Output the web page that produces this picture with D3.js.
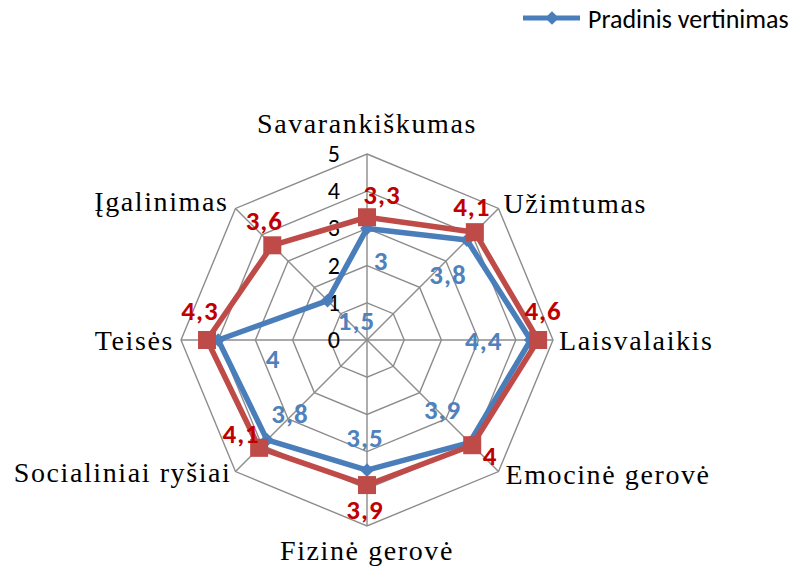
<!DOCTYPE html>
<html>
<head>
<meta charset="utf-8">
<script src="https://cdn.jsdelivr.net/npm/d3@7"></script>
<style>
  body { margin: 0; background: #fff; }
  svg { display: block; }
</style>
</head>
<body>
<script>
// categories (clockwise from top)
var categories = ["Savarankiškumas", "Užimtumas", "Laisvalaikis", "Emocinė gerovė",
                  "Fizinė gerovė", "Socialiniai ryšiai", "Teisės", "Įgalinimas"];
// series values
var pradinis = [3, 3.8, 4.4, 3.9, 3.5, 3.8, 4, 1.5];
var pakartotinis = [3.3, 4.1, 4.6, 4, 3.9, 4.1, 4.3, 3.6];
// radial axis ticks
var ticks = [0, 1, 2, 3, 4, 5];
var legendName = "Pradinis vertinimas";

//---------setup-----------//
var width = 794, height = 567;
var cx = 367, cy = 340, R = 186;

var blue = "#4a7ebb", red = "#be4b48";
var blueText = "#4f81bd", redText = "#c00000";

var r = d3.scaleLinear().domain([0, 5]).range([0, R]);
var angle = d3.scaleLinear().domain([0, categories.length]).range([0, 2 * Math.PI]);

function px(i, v) { return cx + r(v) * Math.sin(angle(i)); }
function py(i, v) { return cy - r(v) * Math.cos(angle(i)); }

var svg = d3.select("body").append("svg")
    .attr("width", width)
    .attr("height", height);

// grid rings
var ring = d3.line().x(function(d) { return d[0]; }).y(function(d) { return d[1]; }).curve(d3.curveLinearClosed);
ticks.filter(function(t) { return t > 0; }).forEach(function(t) {
    svg.append("path")
        .attr("d", ring(categories.map(function(c, i) { return [px(i, t), py(i, t)]; })))
        .attr("fill", "none")
        .attr("stroke", "#8c8c8c")
        .attr("stroke-width", 1.4);
});

// spokes
svg.selectAll(".spoke")
    .data(categories)
    .enter().append("line")
    .attr("class", "spoke")
    .attr("x1", cx).attr("y1", cy)
    .attr("x2", function(d, i) { return px(i, 5); })
    .attr("y2", function(d, i) { return py(i, 5); })
    .attr("stroke", "#8c8c8c")
    .attr("stroke-width", 1.4);

// tick labels
svg.selectAll(".tick")
    .data(ticks)
    .enter().append("text")
    .attr("class", "tick")
    .attr("x", cx - 27)
    .attr("y", function(d) { return cy - r(d); })
    .attr("dy", "0.33em")
    .attr("text-anchor", "end")
    .style("font-family", "Carlito, 'Liberation Sans', sans-serif")
    .style("font-size", "24px")
    .style("fill", "#000")
    .text(function(d) { return d; });

// category labels: anchor + offset from outer vertex
var catLayout = [
    ["middle", 0, -21], ["start", 5, 5], ["start", 6, 10], ["start", 7, 12],
    ["middle", 0, 34], ["end", -4, 10], ["end", -7, 10], ["end", -7, 3]
];
svg.selectAll(".cat")
    .data(categories)
    .enter().append("text")
    .attr("class", "cat")
    .attr("x", function(d, i) { return px(i, 5) + catLayout[i][1]; })
    .attr("y", function(d, i) { return py(i, 5) + catLayout[i][2]; })
    .attr("text-anchor", function(d, i) { return catLayout[i][0]; })
    .style("font-family", "'Liberation Serif', 'Times New Roman', serif")
    .style("font-size", "28px")
    .style("letter-spacing", "1.6px")
    .style("fill", "#000")
    .text(function(d) { return d; });

//-------------series----------//
var seriesLine = d3.line()
    .x(function(d, i) { return px(i, d); })
    .y(function(d, i) { return py(i, d); })
    .curve(d3.curveLinearClosed);

// blue line + diamonds
svg.append("path")
    .attr("d", seriesLine(pradinis))
    .attr("fill", "none")
    .attr("stroke", blue)
    .attr("stroke-width", 5.5)
    .attr("stroke-linejoin", "round");
svg.selectAll(".dia")
    .data(pradinis)
    .enter().append("path")
    .attr("class", "dia")
    .attr("d", d3.symbol().type(d3.symbolDiamond2).size(120))
    .attr("transform", function(d, i) { return "translate(" + px(i, d) + "," + py(i, d) + ")"; })
    .attr("fill", blue);

// red line + squares
svg.append("path")
    .attr("d", seriesLine(pakartotinis))
    .attr("fill", "none")
    .attr("stroke", red)
    .attr("stroke-width", 5.5)
    .attr("stroke-linejoin", "round");
svg.selectAll(".sq")
    .data(pakartotinis)
    .enter().append("rect")
    .attr("class", "sq")
    .attr("x", function(d, i) { return px(i, d) - 9; })
    .attr("y", function(d, i) { return py(i, d) - 9; })
    .attr("width", 18).attr("height", 18)
    .attr("fill", red);

// data labels (offset of label centre from its point)
var blueOffsets = [[14, 33], [-19, 35], [-47, 1], [-27, -32], [-2, -32], [23, -26], [55, 19], [29, 21]];
var redOffsets = [[15, -22], [-3, -25], [5, -29], [18, 11], [-2, 25], [-18, -14], [-7, -29], [-8, -24]];

function fmt(v) { return String(v).replace(".", ","); }

function dataLabels(values, offsets, color, cls) {
    svg.selectAll("." + cls)
        .data(values)
        .enter().append("text")
        .attr("class", cls)
        .attr("x", function(d, i) { return px(i, d) + offsets[i][0]; })
        .attr("y", function(d, i) { return py(i, d) + offsets[i][1]; })
        .attr("dy", "0.33em")
        .attr("text-anchor", "middle")
        .style("font-family", "Carlito, 'Liberation Sans', sans-serif")
        .style("font-size", "27px")
        .style("font-weight", "bold")
        .style("letter-spacing", "1px")
        .style("fill", color)
        .text(fmt);
}
dataLabels(pradinis, blueOffsets, blueText, "lblB");
dataLabels(pakartotinis, redOffsets, redText, "lblR");

//-------------legend----------//
var legend = svg.append("g").attr("transform", "translate(523,18)");
legend.append("line")
    .attr("x1", 0).attr("x2", 57)
    .attr("y1", 0).attr("y2", 0)
    .attr("stroke", blue)
    .attr("stroke-width", 5);
legend.append("path")
    .attr("d", d3.symbol().type(d3.symbolDiamond2).size(120))
    .attr("transform", "translate(29,0)")
    .attr("fill", blue);
legend.append("text")
    .attr("x", 65)
    .attr("y", 10)
    .style("font-family", "Carlito, 'Liberation Sans', sans-serif")
    .style("font-size", "26px")
    .style("fill", "#000")
    .text(legendName);
</script>
</body>
</html>
